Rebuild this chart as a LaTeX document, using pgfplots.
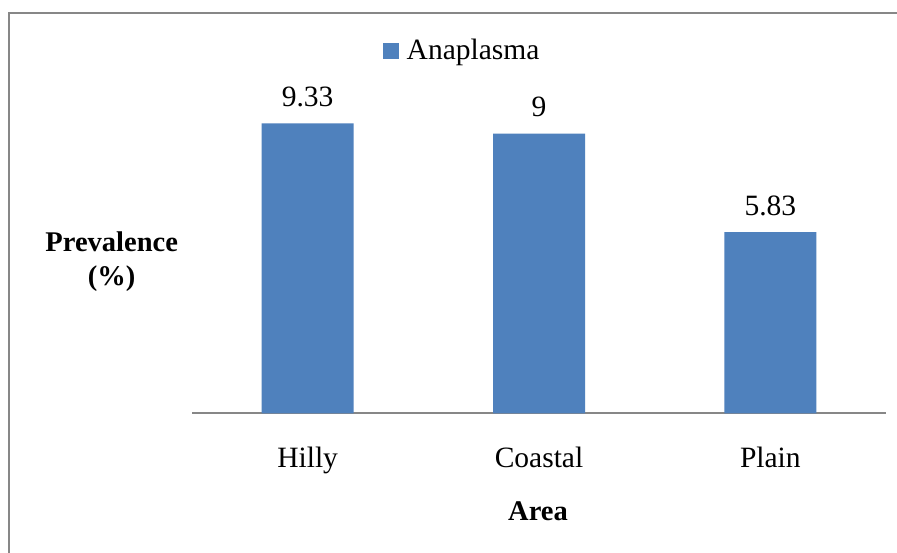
\documentclass[border=0pt]{standalone}
\usepackage{pgfplots}
\pgfplotsset{compat=1.18}
\usepackage{fontspec}
\setmainfont{Liberation Serif}
\definecolor{barblue}{HTML}{4F81BD}
\definecolor{framegray}{HTML}{878787}
\newcommand\chartfont{\fontsize{29.5}{34}\selectfont}
\newcommand\labelfont{\bfseries\fontsize{28.5}{33.3}\selectfont}
\begin{document}
\chartfont
\begin{tikzpicture}[x=1pt,y=1pt]
\path[use as bounding box] (0,0) rectangle (897,552);
\fill[white] (0,0) rectangle (897,552);
% chart frame
\draw[framegray, line width=2.4pt] (9,-2) -- (9,539) -- (899,539);
\begin{axis}[
  at={(192pt,138.7pt)}, anchor=south west,
  scale only axis, width=694pt, height=310.8pt,
  xmin=-0.5, xmax=2.5, ymin=0, ymax=10,
  axis x line*=bottom, axis y line*=left,
  x axis line style={framegray, line width=2pt, -},
  y axis line style={draw=none},
  ytick=\empty,
  xtick={0,1,2}, xticklabels={Hilly,Coastal,Plain},
  major tick length=0pt,
  xticklabel style={font=\chartfont, anchor=base, yshift=-54pt},
  ybar, bar width=92pt,
  nodes near coords, point meta=explicit symbolic,
  nodes near coords style={font=\chartfont, anchor=base, yshift=17pt, inner sep=0pt},
  xlabel={Area},
  xlabel style={font=\labelfont, at={(axis description cs:0.4986,-0.3465)}, anchor=base},
  ylabel={Prevalence\\(\%)},
  ylabel style={font=\labelfont, rotate=-90, align=center, at={(axis description cs:-0.1157,0.4128)}, anchor=base},
  legend style={draw=none, fill=none, inner sep=0pt, outer sep=0pt,
    nodes={inner sep=0pt, font=\chartfont}, column sep=7.4pt,
    at={(axis description cs:0.2757,1.1632)}, anchor=base west},
  legend image code/.code={\fill[barblue] (0pt,-7.5pt) rectangle (16pt,8.5pt);},
]
\addplot[fill=barblue, draw=none] coordinates {(0,9.33) [9.33] (1,9) [9] (2,5.83) [5.83]};
\addlegendentry{Anaplasma}
\end{axis}
\end{tikzpicture}
\end{document}
